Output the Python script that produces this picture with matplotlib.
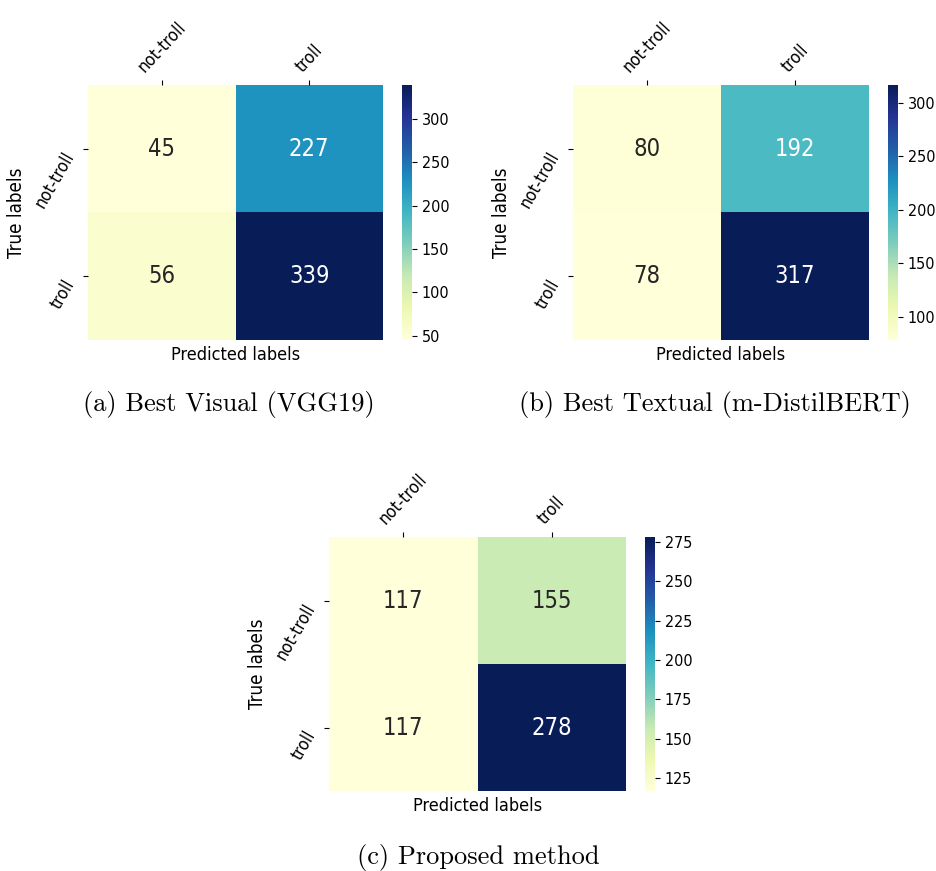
import numpy as np
import matplotlib
matplotlib.use("Agg")
import matplotlib.pyplot as plt
import seaborn as sns

plt.rcParams["font.stretch"] = "condensed"

classes = ["not-troll", "troll"]

cm_visual = [[45, 227], [56, 339]]
cm_textual = [[80, 192], [78, 317]]
cm_proposed = [[117, 155], [117, 278]]

captions = [
    "(a) Best Visual (VGG19)",
    "(b) Best Textual (m-DistilBERT)",
    "(c) Proposed method",
]

W, H = 936, 871
fig = plt.figure(figsize=(W / 100, H / 100), dpi=100)


def px_rect(x0, y0, x1, y1):
    return [x0 / W, 1 - y1 / H, (x1 - x0) / W, (y1 - y0) / H]


def draw_cm(cm, hm_box, cb_box):
    ax = fig.add_axes(px_rect(*hm_box))
    cax = fig.add_axes(px_rect(*cb_box))
    sns.heatmap(np.array(cm), annot=True, fmt="d", cmap="YlGnBu", ax=ax,
                cbar_ax=cax, annot_kws={"size": 17})
    ax.xaxis.tick_top()
    ax.set_xticklabels(classes, rotation=47, fontsize=12.5)
    ax.set_yticklabels(classes, rotation=60, va="top", fontsize=12.5)
    ax.set_xlabel("Predicted labels", fontsize=13)
    ax.set_ylabel("True labels", fontsize=13.5)
    cax.tick_params(labelsize=11.5)
    for s in cax.spines.values():
        s.set_visible(False)
    return ax


draw_cm(cm_visual, (88, 85, 383, 340), (402, 85, 412, 340))
draw_cm(cm_textual, (573, 85, 869, 340), (888, 85, 898, 340))
draw_cm(cm_proposed, (329, 537, 626, 791), (645, 537, 655, 791))

for (cx, cy), text in zip([(229, 405), (715, 405), (478, 857)], captions):
    fig.text(cx / W, 1 - cy / H, text, ha="center", va="center",
             fontfamily="cmr10", fontsize=19)

fig.savefig("out.png", dpi=100)
